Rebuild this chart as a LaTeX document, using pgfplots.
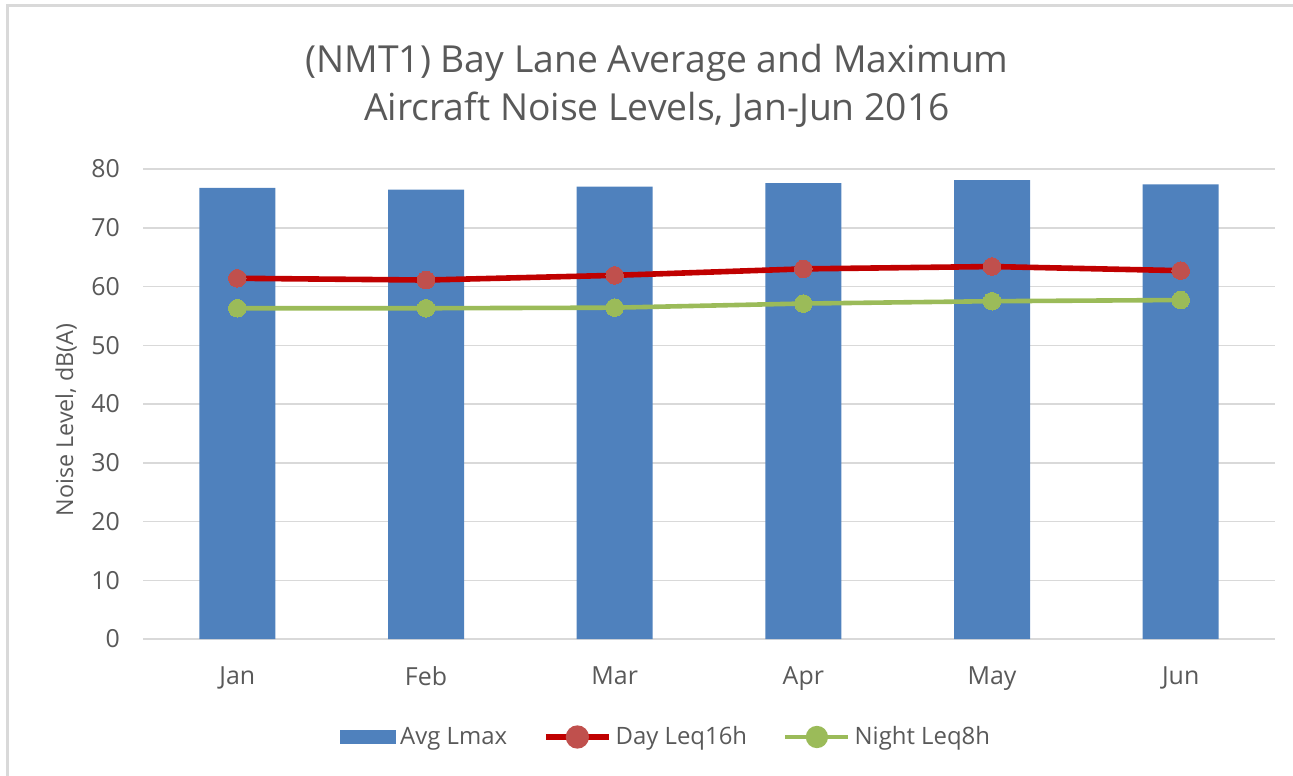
\documentclass[border=0pt]{standalone}
\usepackage{fontspec}
\setmainfont{Open Sans}
\usepackage{pgfplots}
\pgfplotsset{compat=1.18}

\definecolor{barblue}{HTML}{4F81BD}
\definecolor{dayred}{HTML}{C00000}
\definecolor{daymark}{HTML}{C0504D}
\definecolor{nightgreen}{HTML}{9BBB59}
\definecolor{gridgray}{HTML}{D9D9D9}
\definecolor{txt}{HTML}{595959}

% 1 px of the reference = 0.5bp
\begin{document}
\begin{tikzpicture}
\path[use as bounding box] (0,0) rectangle (646.5bp,-388bp);
\draw[gridgray, line width=1.5bp] (3.5bp,-388bp) -- (3.5bp,-2.5bp) -- (646.5bp,-2.5bp);

\node[txt, font=\fontsize{18.7}{22}\selectfont, anchor=base] at (328.5bp,-36bp) {(NMT1) Bay Lane Average and Maximum};
\node[txt, font=\fontsize{18.7}{22}\selectfont, anchor=base] at (328.5bp,-60bp) {Aircraft Noise Levels, Jan-Jun 2016};
\node[txt, font=\fontsize{11.7}{14}\selectfont, rotate=90] at (33bp,-210bp) {Noise Level, dB(A)};

\begin{axis}[
  at={(71.5bp,-319.5bp)}, anchor=south west,
  scale only axis, width=566bp, height=235bp,
  xmin=-0.5, xmax=5.5, ymin=0, ymax=80,
  xtick={0,...,5},
  xticklabels={Jan,Feb,Mar,Apr,May,Jun},
  ytick={0,10,...,80},
  ymajorgrids, grid style={gridgray, line width=0.75bp},
  axis x line*=bottom, axis y line*=left,
  x axis line style={gridgray, line width=0.75bp},
  y axis line style={draw=none},
  major tick length=0pt,
  tick label style={txt, font=\fontsize{12.5}{15}\selectfont},
  /pgf/number format/assume math mode=true,
  yticklabel style={xshift=-8bp},
  xticklabel style={yshift=-10.5bp},
  ytick style={draw=none}, xtick style={draw=none},
  clip=false,
  legend columns=3,
  legend style={at={(0.463,-0.2085)}, anchor=center, draw=none, fill=none,
    font=\fontsize{12}{15}\selectfont, text=txt,
    /tikz/every even column/.append style={column sep=16bp}},
  legend cell align=left,
]
\addplot[ybar, bar width=38bp, fill=barblue, draw=none, area legend,
  legend image code/.code={\fill[barblue] (0bp,-3.5bp) rectangle (28bp,3.5bp);}]
  coordinates {(0,76.8) (1,76.5) (2,77.0) (3,77.6) (4,78.1) (5,77.4)};
\addlegendentry{Avg Lmax}
\addplot[dayred, line width=2.8bp, mark=*, mark size=4.4bp,
  mark options={fill=daymark, draw=daymark, line width=0pt},
  legend image code/.code={\draw[dayred, line width=2.8bp] (0bp,0bp) -- (31.5bp,0bp);
    \fill[daymark] (15.75bp,0bp) circle (4.4bp);}]
  coordinates {(0,61.4) (1,61.1) (2,61.9) (3,63.0) (4,63.4) (5,62.7)};
\addlegendentry{Day Leq16h}
\addplot[nightgreen, line width=2.3bp, mark=*, mark size=4.4bp,
  mark options={fill=nightgreen, draw=nightgreen, line width=0pt},
  legend image code/.code={\draw[nightgreen, line width=2.3bp] (0bp,0bp) -- (31.5bp,0bp);
    \fill[nightgreen] (15.75bp,0bp) circle (4.4bp);}]
  coordinates {(0,56.3) (1,56.3) (2,56.4) (3,57.1) (4,57.5) (5,57.7)};
\addlegendentry{Night Leq8h}
\end{axis}
\end{tikzpicture}
\end{document}
